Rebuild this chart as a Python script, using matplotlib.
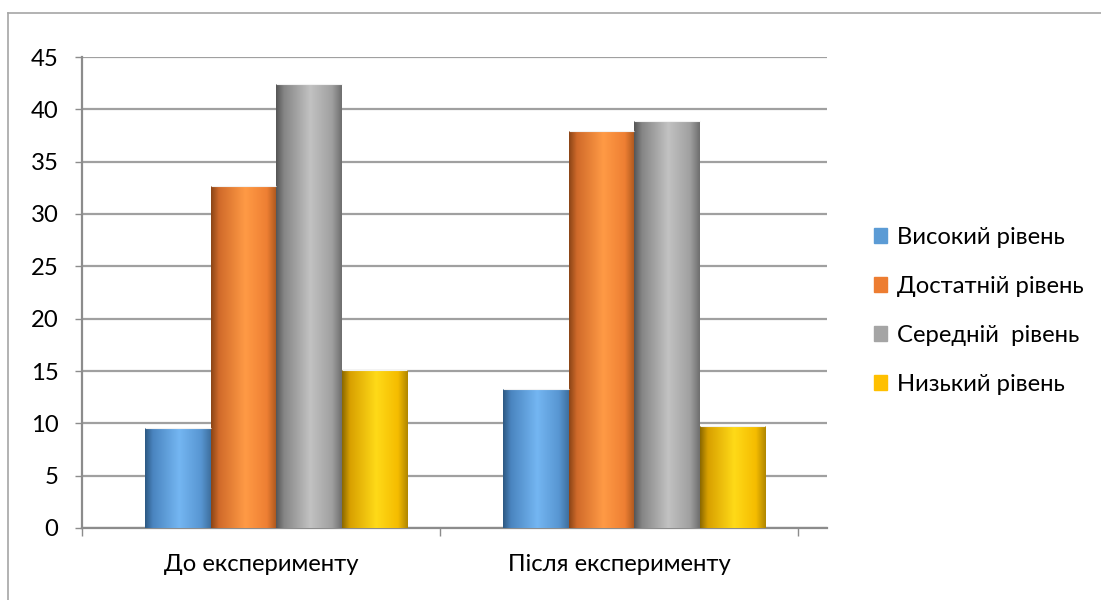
import numpy as np
import matplotlib
matplotlib.use("Agg")
import matplotlib.pyplot as plt
from matplotlib.colors import LinearSegmentedColormap
from matplotlib.lines import Line2D

plt.rcParams['font.family'] = ['Lato', 'DejaVu Sans']

categories = ["До експерименту", "Після експерименту"]
series_names = ["Високий рівень", "Достатній рівень", "Середній  рівень", "Низький рівень"]
values = {
    "Високий рівень": [9.6, 13.3],
    "Достатній рівень": [32.7, 37.9],
    "Середній  рівень": [42.4, 38.9],
    "Низький рівень": [15.1, 9.7],
}
y_ticks = [0, 5, 10, 15, 20, 25, 30, 35, 40, 45]

# legend swatch colour and cylinder shading (left edge -> highlight -> right edge)
base_colors = ["#5B9BD5", "#ED7D31", "#A5A5A5", "#FFC000"]
shades = [
    ("#2C5882", "#4A85C0", "#74B6F2", "#5896D2", "#3E6F9E"),
    ("#8A4416", "#D06A2A", "#FF9A45", "#EE7F33", "#A9561D"),
    ("#555555", "#858585", "#C2C2C2", "#A0A0A0", "#6E6E6E"),
    ("#8A6800", "#D8A000", "#FFDA18", "#F5BC00", "#B08600"),
]

FS = 17.2

fig = plt.figure(figsize=(11.01, 6.0), dpi=100)
ax = fig.add_axes([82 / 1101, 72 / 600, 745 / 1101, 471 / 600])

n = len(series_names)
w = 0.183
shift = 0.042
x = np.arange(len(categories))
grad = np.linspace(0, 1, 256).reshape(1, -1)

for k, name in enumerate(series_names):
    pos = x + shift + (k - (n - 1) / 2) * w
    bars = ax.bar(pos, values[name], width=w, color=base_colors[k],
                  edgecolor="none", zorder=3, label=name)
    cmap = LinearSegmentedColormap.from_list(
        f"cyl{k}", list(zip([0.0, 0.12, 0.52, 0.85, 1.0], shades[k])))
    for b in bars:
        x0, y0 = b.get_x(), b.get_y()
        im = ax.imshow(grad, cmap=cmap, aspect="auto", interpolation="bilinear",
                       extent=(x0, x0 + b.get_width(), y0, y0 + b.get_height()),
                       zorder=4)
        im.set_clip_path(b)
        ax.plot([x0, x0 + b.get_width()], [y0 + b.get_height()] * 2,
                color="#F2F2F2", lw=0.8, zorder=5, solid_capstyle="butt")

ax.set_xlim(-0.5, -0.5 + 745 / 358)
ax.set_ylim(0, 45)
ax.set_yticks(y_ticks)
ax.set_yticklabels([str(t) for t in y_ticks], fontsize=FS)
ax.set_xticks(x)
ax.set_xticklabels(categories, fontsize=FS)
ax.set_xticks([-0.5, 0.5, 1.5], minor=True)
ax.tick_params(axis="x", which="major", length=0, pad=18.5)
ax.tick_params(axis="x", which="minor", length=6, width=1, color="#8C8C8C", direction="out")
ax.tick_params(axis="y", length=5, width=1, color="#8C8C8C", direction="out", pad=12)

ax.grid(axis="y", color="#A0A0A0", lw=1.6, zorder=1)
ax.set_axisbelow(True)
for side in ["top", "right"]:
    ax.spines[side].set_visible(False)
for side in ["left", "bottom"]:
    ax.spines[side].set_color("#8C8C8C")
    ax.spines[side].set_linewidth(1.6)

# legend on the right
handles = [plt.Rectangle((0, 0), 1, 1, color=c) for c in base_colors]
leg = fig.legend(handles, series_names, loc="upper left",
                 bbox_to_anchor=(874 / 1101, 1 - 227 / 600),
                 frameon=False, fontsize=FS, handlelength=0.55, handleheight=0.55,
                 handletextpad=0.42, labelspacing=1.17, borderpad=0, borderaxespad=0)

# chart area border (top and left edges)
fig.add_artist(Line2D([8 / 1101, 1.0], [1 - 13 / 600] * 2, color="#A6A6A6", lw=1.2))
fig.add_artist(Line2D([8 / 1101] * 2, [0.0, 1 - 13 / 600], color="#A6A6A6", lw=1.2))

fig.savefig("out.png", dpi=100, facecolor="white")
